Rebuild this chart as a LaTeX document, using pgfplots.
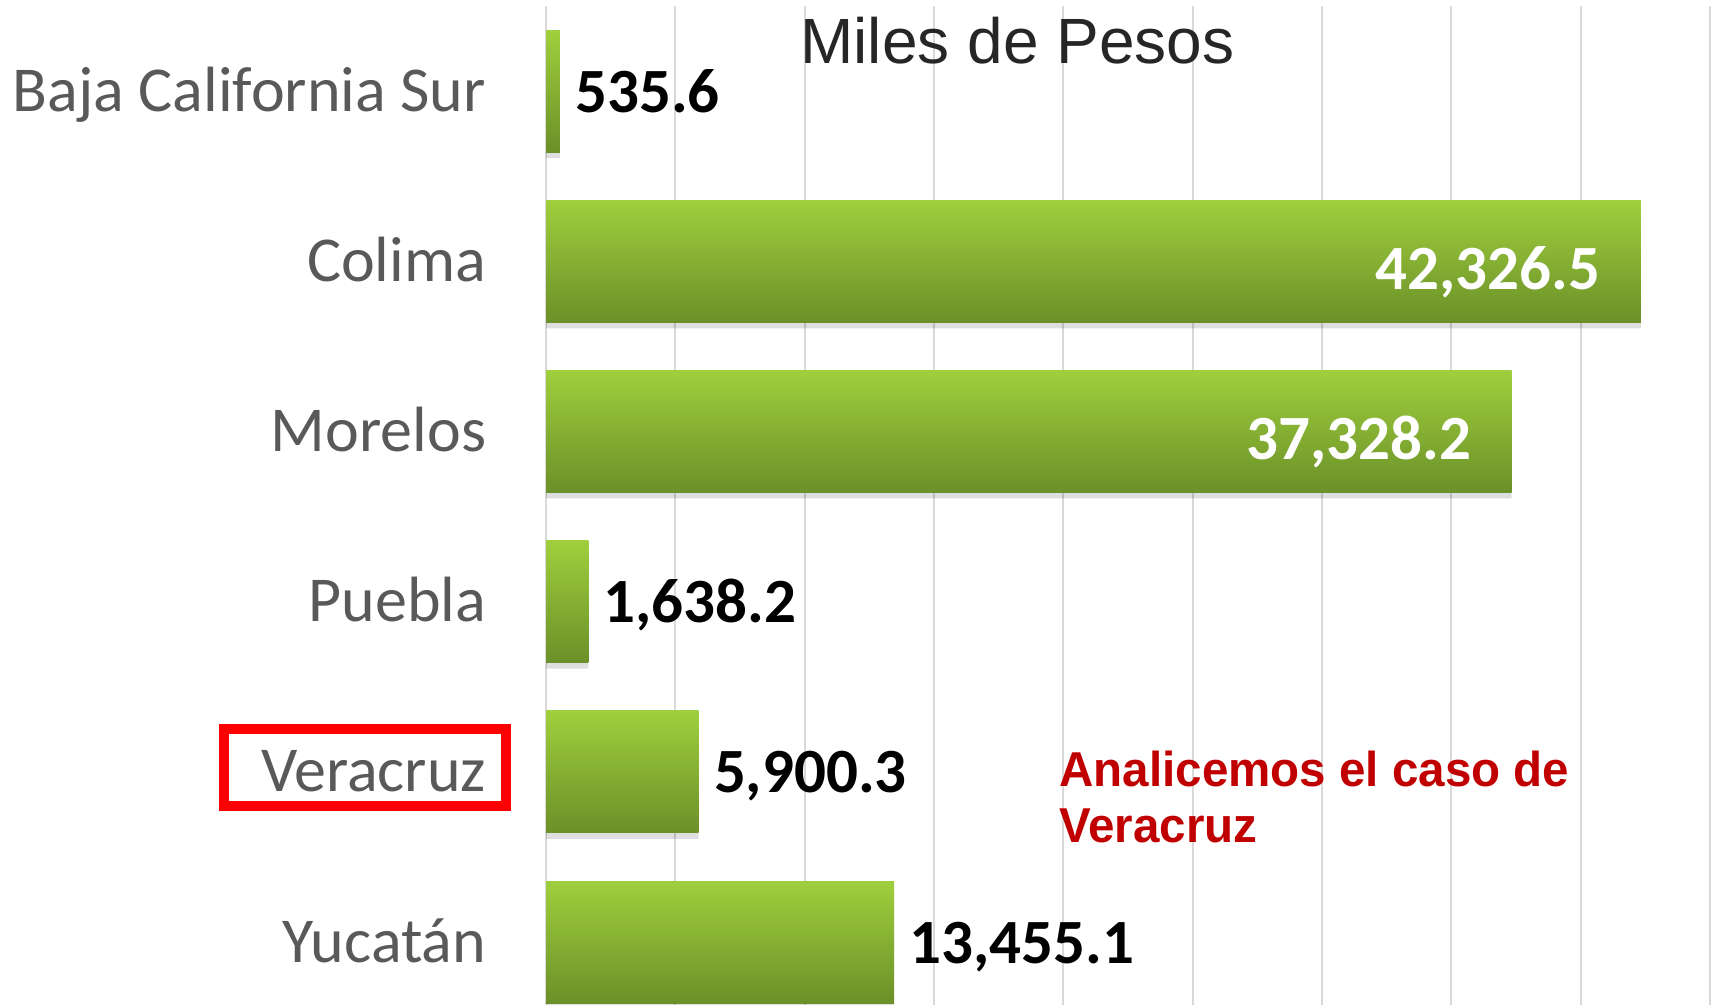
\documentclass[border=0pt]{standalone}
\usepackage{pgfplots}
\pgfplotsset{compat=1.18}
\usepackage{graphicx}
\usepackage{fontspec}
\setmainfont{Carlito}
\newfontfamily\arialfont{Liberation Sans}
\definecolor{lbl}{HTML}{595959}
\definecolor{gtop}{HTML}{9FCF3D}
\definecolor{gmid}{HTML}{92C03A}
\definecolor{gbot}{HTML}{6B9028}
\definecolor{gridc}{HTML}{D9D9D9}
\definecolor{redtxt}{HTML}{C00000}
\definecolor{titlec}{HTML}{262626}

\pgfplotsset{
  gbar/.style={xbar, bar shift=0pt, draw=none, top color=gtop, middle color=gmid, bottom color=gbot},
  outlab/.style={nodes near coords={#1},
    every node near coord/.append style={font=\bfseries\fontsize{31.5}{36}\selectfont, text=black, anchor=base west, inner sep=0pt, xshift=7.5pt, yshift=-10.5pt}},
  inlab/.style={nodes near coords={#1},
    every node near coord/.append style={font=\bfseries\fontsize{31.5}{36}\selectfont, text=white, anchor=base east, inner sep=0pt, xshift=-20pt, yshift=-14pt}},
}

\begin{document}
\begin{tikzpicture}
\useasboundingbox (0,0) rectangle (855.5pt,502.5pt);
\begin{axis}[
  at={(273pt,0pt)}, anchor=south west,
  scale only axis, width=582pt, height=499.5pt,
  xmin=0, xmax=45000, ymin=-0.5, ymax=5.37, y dir=reverse,
  separate axis lines,
  axis x line*=none, axis y line*=left,
  xtick={0,5000,...,45000},
  xticklabels={,,,,,,,,,},
  scaled x ticks=false,
  xmajorgrids, grid style={gridc, line width=0.9pt},
  major x tick style={draw=none},
  ytick={0,...,5},
  yticklabels={Baja California Sur, Colima, Morelos, Puebla, Veracruz, Yucatán},
  yticklabel style={font=\fontsize{32}{36}\selectfont, text=lbl, anchor=base east, inner sep=0pt, xshift=-25.5pt, yshift=-10pt},
  major y tick style={draw=none},
  axis line style={draw=none},
  xbar, bar width=61pt,
  clip=false,
]
% soft shadow under the bars
\addplot[xbar, bar shift=-3pt, fill=black, fill opacity=0.13, draw=none, forget plot]
  coordinates {(535.6,0) (42326.5,1) (37328.2,2) (1638.2,3) (5900.3,4) (13455.1,5)};
\addplot[gbar, outlab={535.6}] coordinates {(535.6,0)};
\addplot[gbar, inlab={42,326.5}] coordinates {(42326.5,1)};
\addplot[gbar, inlab={37,328.2}] coordinates {(37328.2,2)};
\addplot[gbar, outlab={1,638.2}] coordinates {(1638.2,3)};
\addplot[gbar, outlab={5,900.3}] coordinates {(5900.3,4)};
\addplot[gbar, outlab={13,455.1}] coordinates {(13455.1,5)};
\end{axis}
\node[anchor=base west, inner sep=0pt, text=titlec] at (400pt,470.8pt) {\arialfont\fontsize{32}{38}\selectfont Miles de Pesos};
\node[anchor=base west, inner sep=0pt, text=redtxt] at (529.5pt,109pt) {\scalebox{0.97}[1]{\arialfont\bfseries\fontsize{24.5}{30}\selectfont Analicemos el caso de}};
\node[anchor=base west, inner sep=0pt, text=redtxt] at (529.5pt,81pt) {\scalebox{0.97}[1]{\arialfont\bfseries\fontsize{24.5}{30}\selectfont Veracruz}};
\draw[red, line width=5pt] (112pt,138pt) rectangle (253pt,99.5pt);
\end{tikzpicture}
\end{document}
